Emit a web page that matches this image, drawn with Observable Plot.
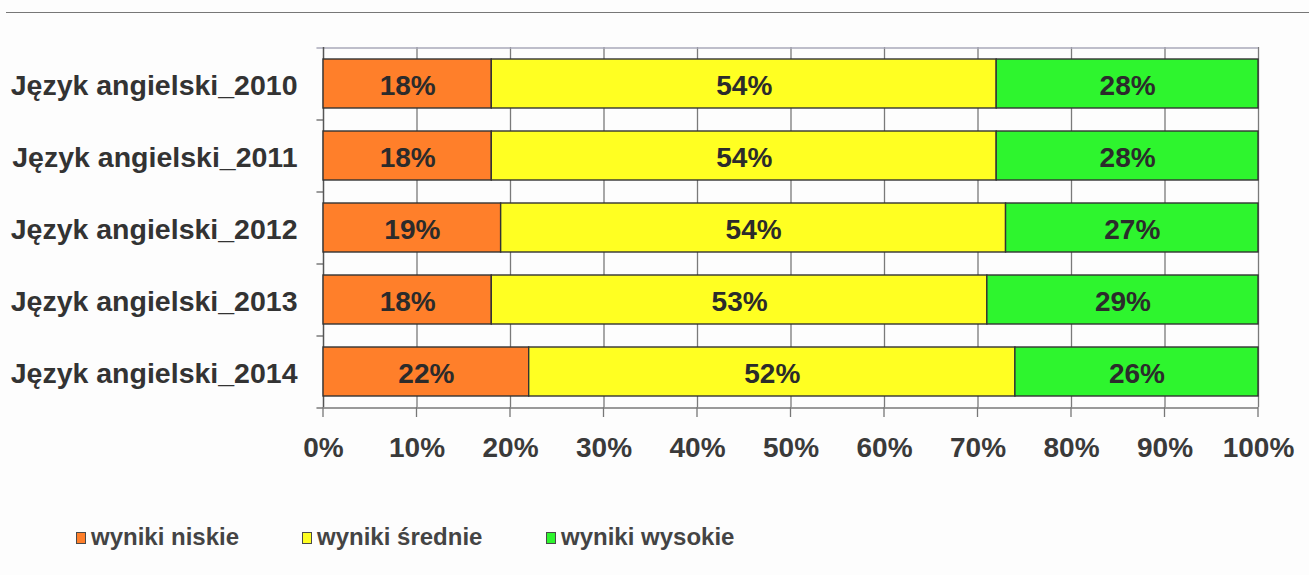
<!DOCTYPE html>
<html>
<head>
<meta charset="utf-8">
<script src="https://cdn.jsdelivr.net/npm/d3@7"></script>
<script src="https://cdn.jsdelivr.net/npm/@observablehq/plot@0.6"></script>
<style>
  body { margin: 0; background: #fdfdfd; font-family: "Liberation Sans", Arial, sans-serif; }
  #wrap { position: relative; width: 1309px; height: 575px; }
  #topline { position: absolute; left: 6px; right: 0; top: 12px; height: 0; border-top: 1.5px solid #777; }
  #chart { position: absolute; left: 0; top: 0; }
  #legend { position: absolute; top: 522px; left: 0; width: 1309px; height: 30px; font-size: 24px; font-weight: bold; color: #444; }
  .item { position: absolute; display: flex; align-items: center; height: 30px; }
  .sw { width: 8px; height: 10px; border: 1.5px solid #4a4a4a; margin-right: 5px; margin-top: 2px; }
</style>
</head>
<body>
<div id="wrap">
  <div id="topline"></div>
  <div id="chart"></div>
  <div id="legend"></div>
</div>
<script>
const categories = ["Język angielski_2010", "Język angielski_2011", "Język angielski_2012", "Język angielski_2013", "Język angielski_2014"];
const seriesNames = ["wyniki niskie", "wyniki średnie", "wyniki wysokie"];
const seriesColors = ["#ff7f2a", "#ffff22", "#2ef52e"];
const niskie = [18, 18, 19, 18, 22];
const srednie = [54, 54, 54, 53, 52];
const wysokie = [28, 28, 27, 29, 26];
const xTicks = [0, 10, 20, 30, 40, 50, 60, 70, 80, 90, 100];

const seriesValues = [niskie, srednie, wysokie];
const data = [];
categories.forEach((c, i) => {
  seriesNames.forEach((s, j) => {
    data.push({cat: c, series: s, value: seriesValues[j][i]});
  });
});

const W = 1309, H = 470;
const mTop = 47, mBottom = 63, mLeft = 323, mRight = 51;
const step = (H - mTop - mBottom) / categories.length;

const chart = Plot.plot({
  width: W,
  height: H,
  marginTop: mTop,
  marginBottom: mBottom,
  marginLeft: mLeft,
  marginRight: mRight,
  style: {background: "transparent", fontFamily: "'Liberation Sans', Arial, sans-serif", overflow: "visible"},
  x: {domain: [0, 100], ticks: xTicks, tickFormat: d => d + "%", label: null, tickSize: 0},
  y: {domain: categories, paddingInner: 0.32, paddingOuter: 0.16, label: null},
  color: {domain: seriesNames, range: seriesColors},
  marks: [
    // vertical gridlines
    Plot.ruleX(xTicks.slice(1), {stroke: "#7a7a7a", strokeWidth: 1.3}),
    // top frame
    Plot.ruleY([categories[0]], {stroke: "#a8a8b8", strokeWidth: 1.5, dy: -step / 2, x1: -0.7, x2: 100}),
    // category boundary ticks
    Plot.ruleY(categories, {stroke: "#666", strokeWidth: 1.3, dy: step / 2, x1: -0.7, x2: 0}),
    // bottom axis line
    Plot.ruleY([categories[categories.length - 1]], {stroke: "#777", strokeWidth: 1.5, dy: step / 2, x1: 0, x2: 100}),
    // x ticks below axis
    Plot.tickX(xTicks, {x: d => d, stroke: "#777", strokeWidth: 1.3, render: (index, scales, values, dims) => {
      const g = d3.create("svg:g");
      const yb = dims.height - dims.marginBottom;
      for (const i of index) {
        g.append("line").attr("x1", values.x[i]).attr("x2", values.x[i]).attr("y1", yb).attr("y2", yb + 10)
          .attr("stroke", "#777").attr("stroke-width", 1.3);
      }
      return g.node();
    }}),
    // left axis line
    Plot.ruleX([0], {stroke: "#555", strokeWidth: 1.5}),
    Plot.barX(data, Plot.stackX({x: "value", y: "cat", fill: "series", stroke: "#333", strokeWidth: 1.4, order: seriesNames})),
    Plot.text(data, Plot.stackX({x: "value", y: "cat", z: "series", order: seriesNames, text: d => d.value + "%",
      fontSize: 28, fontWeight: "bold", fill: "#2b2b2b", dy: 2})),
    Plot.axisX({ticks: xTicks, tickFormat: d => d + "%", tickSize: 0, tickPadding: 30, fontSize: 28, fontWeight: "bold", fill: "#3a3a3a", label: null}),
    Plot.axisY({tickSize: 0, tickPadding: 26, fontSize: 28.5, fontWeight: "bold", fill: "#333", dy: 2, label: null})
  ]
});
document.getElementById("chart").appendChild(chart);

const legendPos = [76, 302, 546];
const legend = document.getElementById("legend");
seriesNames.forEach((s, i) => {
  const it = document.createElement("div");
  it.className = "item";
  it.style.left = legendPos[i] + "px";
  const sw = document.createElement("div");
  sw.className = "sw";
  sw.style.background = seriesColors[i];
  const t = document.createElement("span");
  t.textContent = s;
  it.appendChild(sw);
  it.appendChild(t);
  legend.appendChild(it);
});
</script>
</body>
</html>
